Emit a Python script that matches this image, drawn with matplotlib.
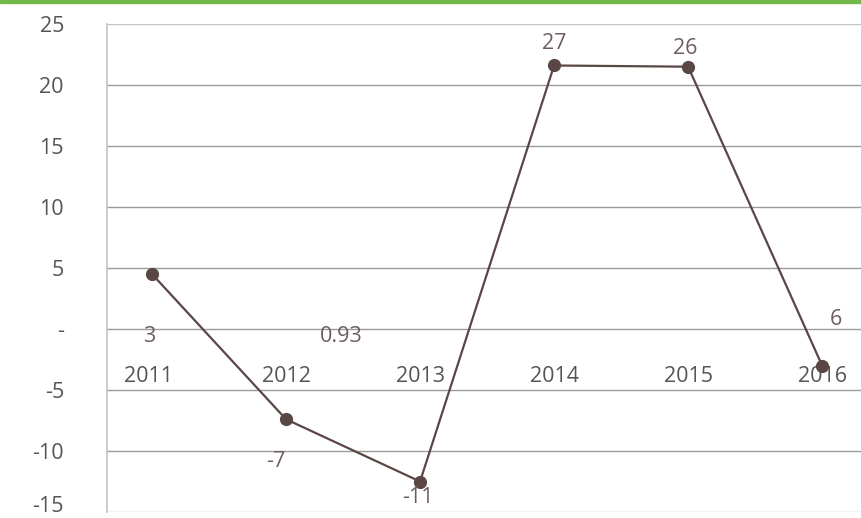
import matplotlib
matplotlib.use("Agg")
import matplotlib.pyplot as plt
from matplotlib.patches import Rectangle
from matplotlib.ticker import FuncFormatter
from matplotlib.transforms import ScaledTranslation

plt.rcParams['font.family'] = ['Open Sans', 'DejaVu Sans']

years = ["2011", "2012", "2013", "2014", "2015", "2016"]
values = [4.5, -7.4, -12.5, 21.6, 21.5, -3.0]

# data labels as printed, with their anchor (category position, value)
label_texts = ["3", "-7", "0.93", "-11", "27", "26", "6"]
label_x = [-0.02, 0.92, 1.41, 1.98, 3.0, 3.98, 5.1]
label_y = [-0.6, -10.9, -0.6, -13.8, 23.4, 23.0, 0.8]

yticks = [25, 20, 15, 10, 5, 0, -5, -10, -15]

line_color = "#5b4646"
label_color = "#6e5d5d"
tick_color = "#555555"
fs = 15.5

fig = plt.figure(figsize=(8.61, 5.18), dpi=100)
ax = fig.add_axes([107 / 861, 1 - 512 / 518, 754 / 861, (512 - 24) / 518])

x = list(range(len(years)))
ax.plot(x, values, color=line_color, linewidth=1.6, marker="o",
        markersize=8.5, zorder=3)

ax.set_ylim(-15, 25)
ax.set_xlim(-0.336, 5.29)
ax.set_yticks(yticks)
ax.yaxis.set_major_formatter(FuncFormatter(lambda v, p: "-" if v == 0 else f"{v:g}"))
ax.tick_params(axis="y", length=0, pad=31, labelsize=fs, labelcolor=tick_color)
ax.set_xticks([])

# lift the lowest tick label so it stays inside the figure
for lab in ax.get_yticklabels():
    if lab.get_text() == "-15":
        lab.set_transform(lab.get_transform() + ScaledTranslation(0, 8 / 100, fig.dpi_scale_trans))

for v in yticks:
    c = "#c4c4c4" if v in (25, -15) else "#9a9a9a"
    ax.axhline(v, color=c, linewidth=1.0, zorder=1)

for s in ("top", "right", "bottom"):
    ax.spines[s].set_visible(False)
ax.spines["left"].set_color("#c4c4c4")
ax.spines["left"].set_linewidth(1.2)

# category names drawn inside the plot area near the zero line
for i, yr in enumerate(years):
    ax.text(i - 0.03 if i == 0 else i, -3.9, yr, ha="center", va="center",
            fontsize=fs, color=tick_color, zorder=2)

for t, lx, ly in zip(label_texts, label_x, label_y):
    ax.text(lx, ly, t, ha="center", va="center", fontsize=fs,
            color=label_color, zorder=4)

fig.add_artist(Rectangle((0, 1 - 3 / 518), 1, 3 / 518, transform=fig.transFigure,
                         color="#74b84b", zorder=5))

fig.savefig("out.png", dpi=100)
